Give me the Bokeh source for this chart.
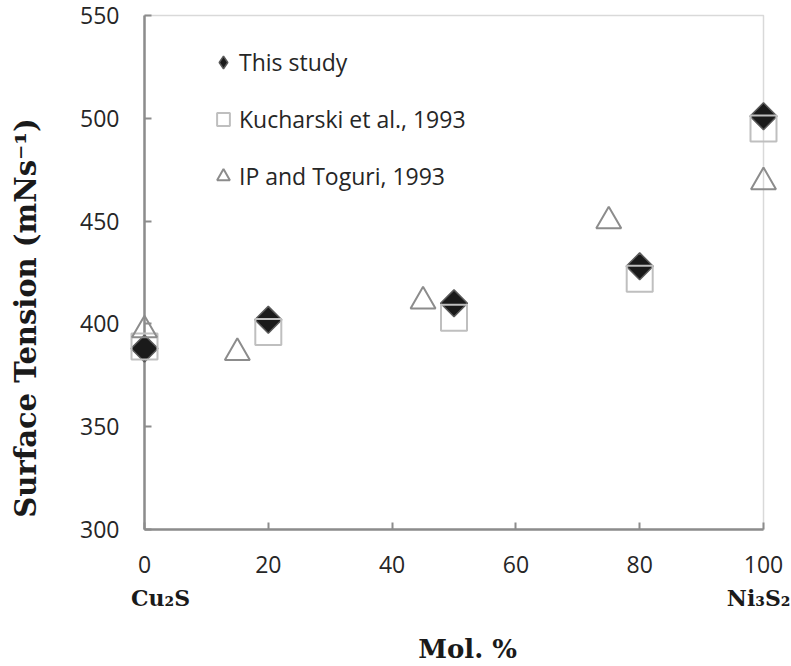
import math
from bokeh.plotting import figure
from bokeh.models import Range1d, Legend, LegendItem, FixedTicker, LinearAxis
from bokeh.embed import file_html
from bokeh.resources import INLINE

# ---- data ----
mol_this = [0, 20, 50, 80, 100]
st_this = [388, 402, 410, 428, 501]

mol_kuch = [0, 20, 50, 80, 100]
st_kuch = [389, 396, 403, 422, 495]

mol_ip = [0, 15, 45, 75, 100]
st_ip = [397, 386, 411, 450, 469]

x_ticks = [0, 20, 40, 60, 80, 100]
y_ticks = [300, 350, 400, 450, 500, 550]

labels = ["This study", "Kucharski et al., 1993", "IP and Toguri, 1993"]
NB = "\u00a0"
x_title = NB * 3 + "Mol. %"
y_title = "Surface Tension (mNs\u207b\u00b9)" + NB * 9
end_names = {2.6: "Cu\u2082S", 99.3: "Ni\u2083S\u2082"}

TICK_FONT = "Open Sans"
TITLE_FONT = "DejaVu Serif"

p = figure(width=790, height=666, output_backend="svg", toolbar_location=None,
           x_range=Range1d(0, 100), y_range=Range1d(300, 550),
           min_border_left=144, min_border_right=27, min_border_top=15,
           min_border_bottom=137)

p.grid.visible = False
p.background_fill_color = "white"
p.border_fill_color = "white"
p.outline_line_color = "#d9d9d9"
p.outline_line_width = 1.5

for ax in (p.xaxis[0], p.yaxis[0]):
    ax.axis_line_color = "#8c8c8c"
    ax.axis_line_width = 2.5
    ax.major_tick_line_color = "#8c8c8c"
    ax.major_tick_line_width = 2
    ax.major_tick_in = 7
    ax.major_tick_out = 0
    ax.minor_tick_line_color = None
    ax.major_label_text_font = TICK_FONT
    ax.major_label_text_font_size = "23px"
    ax.major_label_text_color = "#262626"

p.xaxis[0].ticker = FixedTicker(ticks=x_ticks)
p.yaxis[0].ticker = FixedTicker(ticks=y_ticks)
p.xaxis[0].major_label_standoff = 26
p.yaxis[0].major_label_standoff = 25

yax = p.yaxis[0]
yax.axis_label = y_title
yax.axis_label_standoff = 34
yax.axis_label_text_font = TITLE_FONT
yax.axis_label_text_font_style = "bold"
yax.axis_label_text_font_size = "29px"
yax.axis_label_text_color = "#1a1a1a"

# second axis below: compound names at the two ends, and the x title
name_axis = LinearAxis(ticker=FixedTicker(ticks=list(end_names.keys())),
                       major_label_overrides=end_names,
                       axis_line_color=None, major_tick_line_color=None,
                       minor_tick_line_color=None,
                       major_tick_in=0, major_tick_out=0,
                       major_label_standoff=9,
                       major_label_text_font=TITLE_FONT,
                       major_label_text_font_style="bold",
                       major_label_text_font_size="22px",
                       major_label_text_color="#1a1a1a",
                       axis_label=x_title, axis_label_standoff=20,
                       axis_label_text_font=TITLE_FONT,
                       axis_label_text_font_style="bold",
                       axis_label_text_font_size="26px",
                       axis_label_text_color="#1a1a1a")
p.add_layout(name_axis, "below")

# ---- series (drawn at overlay level so edge markers are not clipped) ----
# diamond key for the legend, hidden beneath the rotated squares
r_this_key = p.scatter(mol_this, st_this, marker="diamond", size=24,
                       fill_color="#1a1a1a", line_color="#5a5a5a",
                       line_width=1.5, level="overlay")
r_this = p.scatter(mol_this, st_this, marker="square", size=19, angle=math.pi / 4,
                   fill_color="#1a1a1a", line_color="#5a5a5a", line_width=1.5,
                   level="overlay")
r_kuch = p.scatter(mol_kuch, st_kuch, marker="square", size=26,
                   fill_color=None, line_color="#bfbfbf", line_width=2,
                   level="overlay")
r_ip = p.scatter(mol_ip, st_ip, marker="triangle", size=25,
                 fill_color=None, line_color="#8c8c8c", line_width=2,
                 level="overlay")

legend = Legend(items=[LegendItem(label=labels[0], renderers=[r_this_key]),
                       LegendItem(label=labels[1], renderers=[r_kuch]),
                       LegendItem(label=labels[2], renderers=[r_ip])],
                location=(63, 333), orientation="vertical",
                glyph_width=32, glyph_height=40, spacing=17, padding=10,
                margin=0, label_standoff=0,
                label_text_font=TICK_FONT, label_text_font_size="23px",
                label_text_color="#262626",
                border_line_color=None, background_fill_alpha=0)
p.add_layout(legend)

open("out.html", "w").write(file_html(p, INLINE))
